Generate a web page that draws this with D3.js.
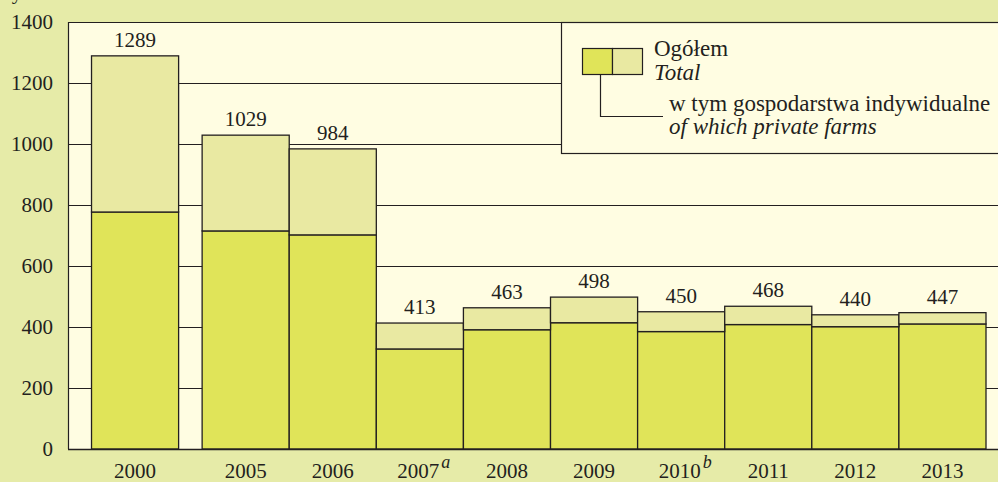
<!DOCTYPE html>
<html>
<head>
<meta charset="utf-8">
<script src="https://cdn.jsdelivr.net/npm/d3@7"></script>
<style>
  html, body { margin: 0; padding: 0; background: #e6eba8; }
  svg { display: block; }
</style>
</head>
<body>
<div class="container"></div>
<script>
const width = 998,
    height = 482,
    serif = "'Liberation Serif', 'Times New Roman', serif";

// data
const years = ['2000', '2005', '2006', '2007', '2008', '2009', '2010', '2011', '2012', '2013'];
const notes = ['', '', '', 'a', '', '', 'b', '', '', ''];
const total = [1289, 1029, 984, 413, 463, 498, 450, 468, 440, 447];
const privateFarms = [777, 715, 702, 328, 391, 414, 385, 408, 401, 410];
const yTicks = [0, 200, 400, 600, 800, 1000, 1200, 1400];

const colors = {
    bg: '#e6eba8',
    plot: '#fffde2',
    dark: '#e0e459',
    light: '#e9e9a2',
    ink: '#231f20'
};

const plot = { left: 68, top: 22, right: 998, bottom: 449 };

const svg = d3.select('.container')
    .append('svg')
    .attr('width', width)
    .attr('height', height)
    .style('font-family', serif);

svg.append('rect')
    .attr('width', width)
    .attr('height', height)
    .attr('fill', colors.bg);

// the first bar stands apart from the others
const slot = i => i === 0 ? 0.27 : i + 0.54;

const x = d3.scaleLinear()
    .domain([0, 10.54])
    .range([plot.left, 986]);

const y = d3.scaleLinear()
    .domain([0, 1400])
    .range([plot.bottom, plot.top]);

// plot background
svg.append('rect')
    .attr('x', plot.left)
    .attr('y', plot.top)
    .attr('width', plot.right - plot.left + 2)
    .attr('height', plot.bottom - plot.top)
    .attr('fill', colors.plot);

// grid
svg.append('g')
    .selectAll('line')
    .data(yTicks.filter(d => d > 0 && d < 1400))
    .enter()
    .append('line')
    .attr('x1', plot.left)
    .attr('x2', plot.right + 2)
    .attr('y1', d => Math.round(y(d)) + 0.5)
    .attr('y2', d => Math.round(y(d)) + 0.5)
    .attr('stroke', colors.ink)
    .attr('stroke-width', 1.2);

// border (left + top)
svg.append('path')
    .attr('d', `M${plot.left + 0.5},${plot.bottom}V${plot.top + 0.5}H${plot.right + 2}`)
    .attr('fill', 'none')
    .attr('stroke', colors.ink)
    .attr('stroke-width', 1.2);

// y axis labels
const yAxis = svg.append('g')
    .attr('transform', `translate(${plot.left - 15},0)`)
    .call(d3.axisLeft(y).tickValues(yTicks).tickSize(0).tickPadding(0).tickFormat(d3.format('d')))
    .attr('font-family', null)
    .attr('font-size', 21);

yAxis.select('.domain').remove();
yAxis.selectAll('text')
    .style('font-family', serif)
    .attr('fill', colors.ink)
    .attr('dy', '0.33em');

// unit label, cut off by the top edge
svg.append('text')
    .attr('x', 6)
    .attr('y', -1)
    .attr('font-size', 21)
    .attr('fill', colors.ink)
    .text('tys.');

// legend box
const legend = svg.append('g')
    .attr('id', 'legend');

legend.append('rect')
    .attr('x', 561.5)
    .attr('y', plot.top + 0.5)
    .attr('width', 450)
    .attr('height', 131)
    .attr('fill', colors.plot)
    .attr('stroke', colors.ink)
    .attr('stroke-width', 1.2);

// bars
const bars = svg.append('g');

bars.selectAll('rect.private')
    .data(years)
    .enter()
    .append('rect')
    .attr('class', 'private')
    .attr('x', (d, i) => x(slot(i)))
    .attr('width', (d, i) => x(slot(i) + 1) - x(slot(i)))
    .attr('y', (d, i) => y(privateFarms[i]))
    .attr('height', (d, i) => y(0) - y(privateFarms[i]))
    .attr('fill', colors.dark)
    .attr('stroke', colors.ink)
    .attr('stroke-width', 1.3);

bars.selectAll('rect.rest')
    .data(years)
    .enter()
    .append('rect')
    .attr('class', 'rest')
    .attr('x', (d, i) => x(slot(i)))
    .attr('width', (d, i) => x(slot(i) + 1) - x(slot(i)))
    .attr('y', (d, i) => y(total[i]))
    .attr('height', (d, i) => y(privateFarms[i]) - y(total[i]))
    .attr('fill', colors.light)
    .attr('stroke', colors.ink)
    .attr('stroke-width', 1.3);

bars.selectAll('text.value')
    .data(years)
    .enter()
    .append('text')
    .attr('class', 'value')
    .attr('x', (d, i) => x(slot(i) + 0.5))
    .attr('y', (d, i) => y(total[i]) - 9)
    .attr('text-anchor', 'middle')
    .attr('font-size', 21)
    .attr('fill', colors.ink)
    .text((d, i) => total[i]);

// x axis line
svg.append('line')
    .attr('x1', plot.left)
    .attr('x2', plot.right + 2)
    .attr('y1', plot.bottom + 0.5)
    .attr('y2', plot.bottom + 0.5)
    .attr('stroke', colors.ink)
    .attr('stroke-width', 1.3);

// year labels
const xLabels = svg.append('g')
    .selectAll('text')
    .data(years)
    .enter()
    .append('text')
    .attr('x', (d, i) => x(slot(i) + 0.5) + (notes[i] ? 4 : 0))
    .attr('y', 478)
    .attr('text-anchor', 'middle')
    .attr('font-size', 21)
    .attr('fill', colors.ink);

xLabels.append('tspan').text(d => d);
xLabels.filter((d, i) => notes[i])
    .append('tspan')
    .attr('dy', -10)
    .attr('dx', 2)
    .attr('font-size', 18)
    .attr('font-style', 'italic')
    .text(d => notes[years.indexOf(d)]);

// legend content
legend.append('rect')
    .attr('x', 582.5).attr('y', 48.5)
    .attr('width', 30).attr('height', 26)
    .attr('fill', colors.dark)
    .attr('stroke', colors.ink).attr('stroke-width', 1.2);

legend.append('rect')
    .attr('x', 612.5).attr('y', 48.5)
    .attr('width', 30).attr('height', 26)
    .attr('fill', colors.light)
    .attr('stroke', colors.ink).attr('stroke-width', 1.2);

legend.append('path')
    .attr('d', 'M600.5,74.5V116.5H663')
    .attr('fill', 'none')
    .attr('stroke', colors.ink)
    .attr('stroke-width', 1.2);

const legendText = [
    { t: 'Ogółem', x: 654, y: 56, italic: false },
    { t: 'Total', x: 654, y: 80, italic: true },
    { t: 'w tym gospodarstwa indywidualne', x: 669, y: 111, italic: false },
    { t: 'of which private farms', x: 669, y: 134, italic: true }
];

legend.selectAll('text')
    .data(legendText)
    .enter()
    .append('text')
    .attr('x', d => d.x)
    .attr('y', d => d.y)
    .attr('font-size', 23)
    .attr('font-style', d => d.italic ? 'italic' : 'normal')
    .attr('fill', colors.ink)
    .text(d => d.t);
</script>
</body>
</html>
